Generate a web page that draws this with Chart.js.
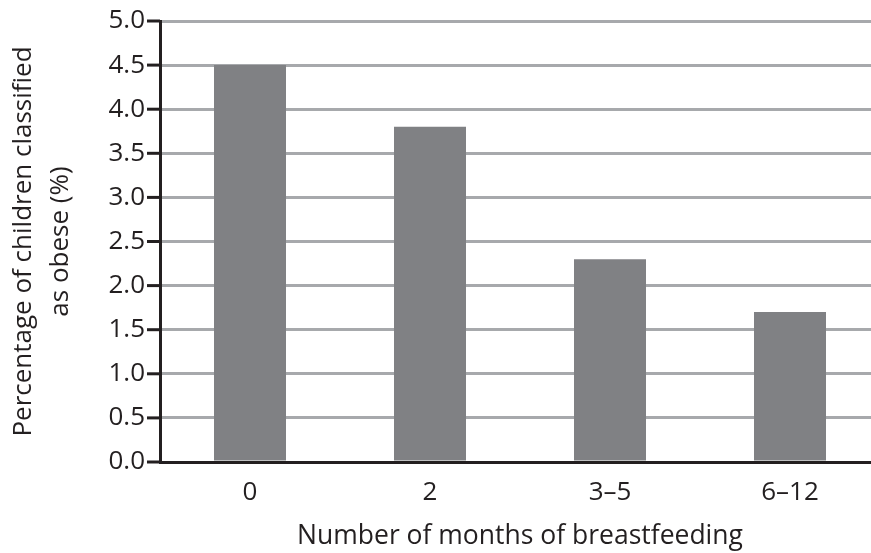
<!DOCTYPE html>
<html>
<head>
<meta charset="utf-8">
<script src="https://cdn.jsdelivr.net/npm/chart.js@4"></script>
<style>
  html, body { margin: 0; padding: 0; background: #fff; }
  #wrap { width: 871px; height: 553px; overflow: hidden; position: relative; }
  #box { width: 880px; height: 553px; position: absolute; left: 0; top: 0; }
</style>
</head>
<body>
<div id="wrap"><div id="box"><canvas id="c"></canvas></div></div>
<script>
const categories = ['0', '2', '3–5', '6–12'];
const obesePercent = [4.5, 3.8, 2.3, 1.7];
const yTitle = ['Percentage of children classified', 'as obese (%)'];
const xTitle = 'Number of months of breastfeeding';

const FONT = "'Open Sans', 'Noto Sans', sans-serif";
const INK = '#231f20';

const tickMarks = {
  id: 'tickMarks',
  afterDraw(chart) {
    const y = chart.scales.y;
    const ctx = chart.ctx;
    ctx.save();
    ctx.strokeStyle = INK;
    ctx.lineWidth = 3;
    y.ticks.forEach(t => {
      const py = y.getPixelForValue(t.value);
      ctx.beginPath();
      ctx.moveTo(y.right - 13, py);
      ctx.lineTo(y.right, py);
      ctx.stroke();
    });
    ctx.restore();
  }
};

new Chart(document.getElementById('c'), {
  type: 'bar',
  data: {
    labels: categories,
    datasets: [{
      data: obesePercent,
      backgroundColor: '#808184',
      borderWidth: 0,
      barPercentage: 0.4,
      categoryPercentage: 1.0
    }]
  },
  options: {
    responsive: true,
    maintainAspectRatio: false,
    animation: false,
    layout: { padding: { top: 0, right: 0, left: 0, bottom: 0 } },
    plugins: { legend: { display: false }, tooltip: { enabled: false } },
    scales: {
      x: {
        grid: { display: false, drawTicks: false },
        border: { display: true, color: INK, width: 3 },
        ticks: { color: INK, font: { family: FONT, size: 26 }, padding: 15 },
        title: { display: true, text: xTitle, color: INK, font: { family: FONT, size: 26.5 }, padding: { top: 0, bottom: 1 } },
        afterFit(s) { s.height = 91; }
      },
      y: {
        min: 0, max: 5,
        grid: { color: '#a7a9ac', lineWidth: 3, drawTicks: false },
        border: { display: true, color: INK, width: 3 },
        ticks: { stepSize: 0.5, color: INK, font: { family: FONT, size: 26 }, padding: 15,
                 callback: v => Number(v).toFixed(1) },
        title: { display: true, text: yTitle, color: INK, font: { family: FONT, size: 26, lineHeight: 1.42 }, padding: { top: 5, bottom: 0 } },
        afterFit(s) { s.width = 160; s.paddingTop = 21; }
      }
    }
  },
  plugins: [tickMarks]
});
</script>
</body>
</html>
